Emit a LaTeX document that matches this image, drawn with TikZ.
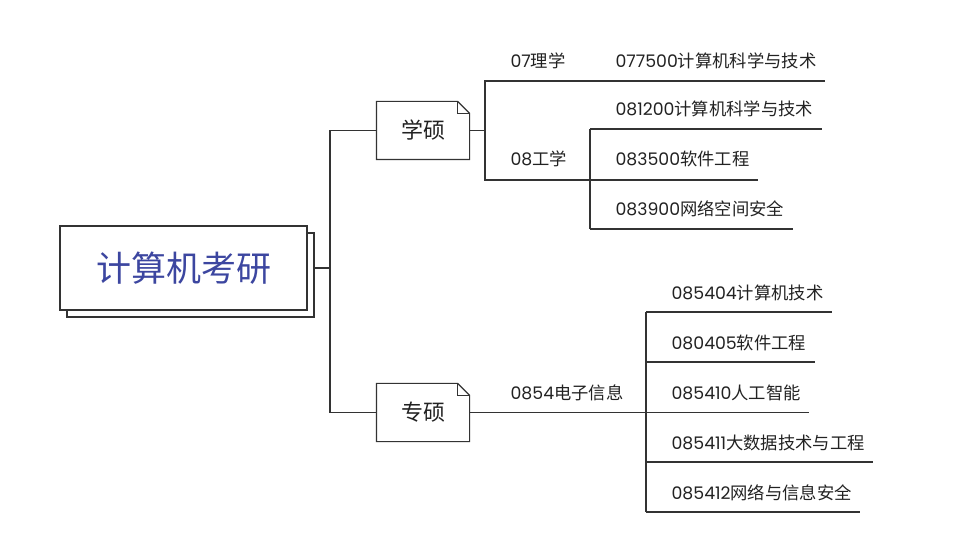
\documentclass[tikz,border=0pt]{standalone}
\usepackage{fontspec}
\setmainfont{Noto Sans CJK SC}
\newfontfamily\lat{Poppins}
\definecolor{ln}{HTML}{333333}
\definecolor{txt}{HTML}{222222}
\definecolor{ttl}{RGB}{60,70,160}
\begin{document}
\begin{tikzpicture}[x=1pt,y=-1pt,line width=1.2pt,draw=ln,
  rootbox/.style={draw=ln,fill=white,minimum width=247pt,minimum height=84pt,inner sep=0pt},
  notebox/.style={draw=none,minimum width=92pt,minimum height=57pt,inner sep=0pt,font=\fontsize{22}{26}\selectfont,text=txt},
  lbl/.style={anchor=base west,inner xsep=8pt,inner ysep=0pt,font=\fontsize{17.3}{20}\selectfont,text=txt}]
\useasboundingbox (0,0) rectangle (975,537);
% root
\node[rootbox] (rootsh) at (190.5,275) {};
\node[rootbox,font=\fontsize{35}{40}\selectfont,text=ttl] (root) at (183.5,268) {计算机考研};
% level 1
\node[notebox] (xs) at (423,130.5) {学硕};
\node[notebox] (zs) at (423,412.5) {专硕};
\foreach \n in {xs,zs}{
  \draw[fill=white] (\n.south west) -- (\n.north west) -- ([xshift=-12pt]\n.north east) -- ([yshift=-12pt]\n.north east) -- (\n.south east) -- cycle;
  \draw ([xshift=-12pt]\n.north east) -- ([xshift=-12pt,yshift=-12pt]\n.north east) -- ([yshift=-12pt]\n.north east);
}
\node[notebox] at (xs) {学硕};
\node[notebox] at (zs) {专硕};
\coordinate (j1) at (330,270);
\draw (root.east -| rootsh.east) -- (j1 |- root.east);
\draw (xs.west) -| (j1) |- (zs.west);
% 学硕 branch
\node[lbl] (l07) at (502,67.5) {{\lat 07}理学};
\node[lbl] (n077500) at (607,67.5) {{\lat 077500}计算机科学与技术};
\node[lbl] (n081200) at (607,115.5) {{\lat 081200}计算机科学与技术};
\node[lbl] (l08) at (502,165.5) {{\lat 08}工学};
\node[lbl] (n083500) at (607,165.5) {{\lat 083500}软件工程};
\node[lbl] (n083900) at (607,215.5) {{\lat 083900}网络空间安全};
\coordinate (j2) at (485,130.5);
\coordinate (u07) at (590,81);
\coordinate (u08) at (590,180);
\coordinate (u0812) at (590,129);
\coordinate (u0839) at (590,229);
\draw (xs.east) -- (j2);
\draw (j2) |- (u07) -- (u07 -| n077500.east);
\draw (j2) |- (u08) -- (u08 -| n083500.east);
\draw (u0812) -- (u0839);
\draw (u0812) -- (u0812 -| n081200.east);
\draw (u0839) -- (u0839 -| n083900.east);
% 专硕 branch
\node[lbl] (l0854) at (502,399.5) {{\lat 0854}电子信息};
\node[lbl] (n085404) at (663,299.5) {{\lat 085404}计算机技术};
\node[lbl] (n080405) at (663,349.5) {{\lat 080405}软件工程};
\node[lbl] (n085410) at (663,399.5) {{\lat 085410}人工智能};
\node[lbl] (n085411) at (663,449.5) {{\lat 085411}大数据技术与工程};
\node[lbl] (n085412) at (663,499.5) {{\lat 085412}网络与信息安全};
\coordinate (j3) at (646,412.5);
\coordinate (u1) at (646,312);
\coordinate (u2) at (646,362);
\coordinate (u4) at (646,462);
\coordinate (u5) at (646,512);
\draw (zs.east) -- (j3) -- (j3 -| n085410.east);
\draw (u1) -- (u5);
\draw (u1) -- (u1 -| n085404.east);
\draw (u2) -- (u2 -| n080405.east);
\draw (u4) -- (u4 -| n085411.east);
\draw (u5) -- (u5 -| n085412.east);
\end{tikzpicture}
\end{document}
